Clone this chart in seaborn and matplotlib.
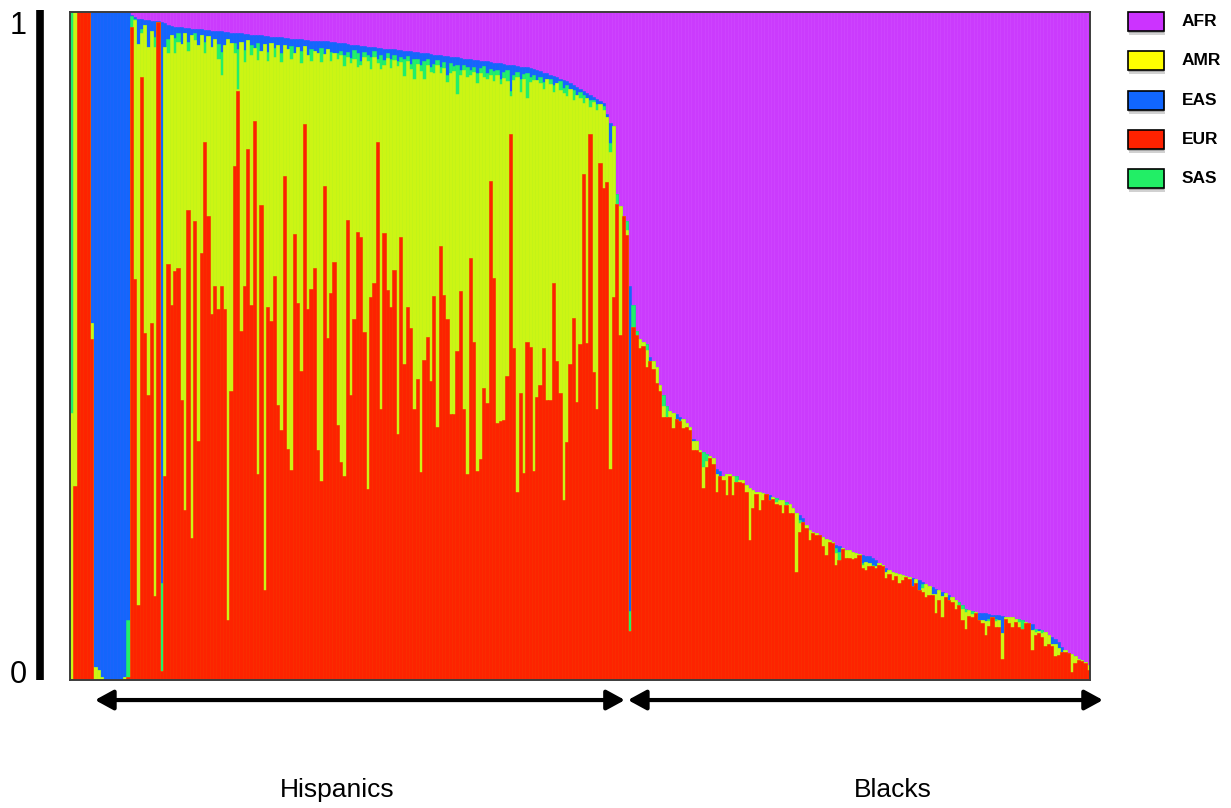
import numpy as np
import pandas as pd
import matplotlib
matplotlib.use('Agg')
import matplotlib.pyplot as plt
from matplotlib.patches import Rectangle
import seaborn as sns

# Admixture proportions per individual, stored as the cumulative top (in %)
# of each layer: EUR at the bottom, then AMR, SAS, EAS; AFR fills up to 100.

# Hispanics (168 individuals)
his_eur = [
    0, 29, 100, 100, 100, 100, 51, 0, 0, 0, 0, 0, 0, 0, 0, 0, 0, 0.5,
    97.7, 60.0, 11.3, 90.3, 51.9, 42.6, 53.4, 12.6, 98.5, 1.3,
    30.6, 62.3, 56.1, 61.3, 61.7, 41.9, 25.5, 70.3, 21.3, 68.7,
    35.8, 63.9, 80.5, 69.5, 54.8, 59.0, 55.5, 59.0, 55.5, 9.0,
    43.2, 77.0, 88.2, 52.3, 59.0, 79.5, 56.1, 83.7, 30.8, 71.1,
    13.5, 55.8, 53.7, 60.5, 41.1, 37.4, 75.4, 34.6, 31.4, 66.8,
    56.5, 46.3, 83.2, 55.5, 58.5, 61.7, 34.5, 29.8, 74.0, 51.2,
    57.9, 62.6,
    38.1, 32.6, 30.6, 68.9, 42.6, 54.0, 67.1, 66.3, 52.1, 28.6,
    57.4, 59.5, 80.6, 40.6, 66.9, 58.4, 55.8, 61.4, 36.9, 66.3,
    47.3, 55.8, 52.7, 40.5, 45.0, 31.2, 47.9, 51.4, 44.7, 57.5,
    37.9, 65.0, 57.6, 54.0, 39.8, 39.8, 49.2, 58.2, 40.5, 30.8,
    63.2, 50.6, 31.3, 33.1, 43.7, 41.5, 74.7, 60.2, 38.5, 38.7,
    38.9, 45.5, 81.7, 49.7, 28.2, 43.0, 31.0, 50.6, 49.9, 31.3,
    42.4, 44.2, 49.7, 41.9, 41.9, 59.5, 47.7, 43.0, 26.9, 35.6,
    47.3, 54.2, 41.6, 50.3, 75.8, 50.5, 81.7, 46.1, 40.5, 77.4,
    73.7, 74.6, 31.6, 57.4, 71.2, 51.6, 69.4, 66.6,
]
his_amr = [
    40, 100, 100, 100, 100, 100, 53.5, 2, 1.5, 0.5, 0, 0, 0, 0, 0, 0, 0.5, 0.5,
    97.7, 98.8, 95.2, 96.8, 98.0, 94.8, 97.1, 94.8, 98.5, 1.3,
    94.8, 93.9, 96.5, 93.9, 95.5, 95.2, 96.8, 94.2, 96.5, 95.8,
    95.0, 96.5, 93.9, 96.4, 94.8, 96.0, 92.9, 90.6, 95.0, 96.0,
    95.3, 93.9, 88.4, 95.5, 92.5, 95.8, 93.6, 94.6, 92.8, 94.2,
    95.2, 92.6, 95.3, 93.2, 95.0, 92.5, 95.1, 94.4, 93.0, 93.8,
    94.7, 92.4, 94.9, 93.6, 92.7, 94.1, 93.9, 92.5, 93.7, 94.4,
    92.6, 93.9,
    92.9, 93.5, 91.9, 93.3, 92.4, 93.0, 91.8, 92.1, 93.2, 92.6,
    91.4, 93.3, 92.3, 91.5, 92.0, 93.1, 91.6, 92.8, 91.9, 92.5,
    90.4, 92.7, 91.4, 89.9, 92.2, 91.2, 90.0, 92.1, 91.0, 90.8,
    92.0, 90.9, 91.6, 89.5, 90.8, 91.2, 87.7, 90.6, 91.3, 90.2,
    90.6, 91.0, 89.4, 90.8, 90.3, 89.9, 90.5, 89.7, 90.6, 89.2,
    90.1, 89.6, 87.5, 89.8, 90.2, 88.0, 89.9, 87.1, 89.5, 89.8,
    89.8, 89.4, 88.5, 89.9, 89.2, 88.0, 89.4, 88.3, 87.9, 87.4,
    88.4, 86.8, 87.6, 87.2, 86.4, 87.2, 85.8, 86.5, 85.3, 86.3,
    85.4, 84.3, 79.0, 83.0, 71.2, 71.0, 69.4, 67.4,
]
his_sas = [
    100, 100, 100, 100, 100, 100, 53.5, 2, 1.5, 0.5, 0, 0, 0, 0, 0, 0, 0.5, 9,
    99.4, 99.0, 95.2, 97.5, 98.0, 94.8, 97.1, 96.2, 98.5, 14.5,
    94.8, 96.0, 96.5, 96.1, 96.8, 95.2, 96.8, 95.5, 96.5, 96.8,
    95.0, 96.5, 95.5, 96.4, 94.8, 96.0, 95.2, 94.0, 95.0, 96.0,
    95.3, 95.3, 94.5, 95.5, 94.3, 95.8, 95.0, 94.6, 95.4, 94.2,
    95.2, 94.0, 95.3, 94.6, 95.0, 93.9, 95.1, 94.4, 94.9, 93.8,
    94.7, 94.2, 94.9, 93.6, 94.5, 94.1, 93.9, 94.6, 93.7, 94.4,
    94.0, 93.9,
    93.8, 94.2, 93.5, 94.0, 93.1, 94.3, 93.9, 92.7, 94.0, 93.5,
    93.2, 94.1, 93.0, 93.6, 92.8, 93.9, 92.9, 93.5, 92.6, 93.3,
    92.9, 93.4, 92.2, 92.9, 93.0, 92.1, 92.6, 92.9, 91.7, 92.2,
    92.8, 91.8, 92.5, 90.5, 92.4, 91.9, 92.0, 91.3, 92.1, 91.8,
    91.3, 91.8, 90.9, 91.6, 91.9, 90.8, 91.5, 91.2, 91.3, 89.9,
    91.0, 91.3, 88.1, 90.6, 91.0, 89.9, 90.7, 90.9, 90.2, 90.6,
    89.8, 90.2, 89.5, 89.9, 90.0, 89.1, 89.4, 89.6, 88.6, 89.0,
    88.4, 88.3, 87.6, 88.0, 87.6, 87.2, 86.9, 86.9, 86.2, 86.3,
    86.0, 84.3, 80.4, 83.0, 72.7, 71.0, 69.4, 68.7,
]
his_eas = [
    100, 100, 100, 100, 100, 100, 100, 100, 100, 100, 100, 100, 100, 100, 100, 100, 100, 100,
    99.6, 99.2, 98.9, 98.9, 98.8, 98.8, 98.7, 98.6, 98.6, 98.5,
    98.3, 98.0, 97.9, 97.8, 97.7, 97.7, 97.6, 97.6, 97.5, 97.5,
    97.4, 97.4, 97.3, 97.3, 97.2, 97.2, 97.1, 97.1, 97.0, 97.0,
    96.9, 96.9, 96.8, 96.8, 96.7, 96.7, 96.6, 96.6, 96.5, 96.5,
    96.4, 96.4, 96.3, 96.3, 96.2, 96.2, 96.1, 96.1, 96.0, 96.0,
    95.9, 95.9, 95.8, 95.8, 95.7, 95.7, 95.7, 95.6, 95.6, 95.6,
    95.5, 95.5,
    95.4, 95.3, 95.3, 95.2, 95.1, 95.1, 95.0, 94.9, 94.9, 94.8,
    94.7, 94.7, 94.6, 94.6, 94.5, 94.5, 94.4, 94.4, 94.3, 94.3,
    94.2, 94.2, 94.1, 94.0, 94.0, 93.9, 93.8, 93.8, 93.7, 93.6,
    93.6, 93.5, 93.4, 93.4, 93.3, 93.2, 93.2, 93.1, 93.0, 93.0,
    92.9, 92.8, 92.8, 92.7, 92.6, 92.6, 92.5, 92.4, 92.3, 92.3,
    92.2, 92.1, 92.0, 92.0, 91.9, 91.8, 91.8, 91.7, 91.6, 91.5,
    91.3, 91.1, 90.9, 90.8, 90.6, 90.4, 90.2, 90.0, 89.8, 89.6,
    89.3, 89.0, 88.8, 88.5, 88.2, 87.9, 87.6, 87.3, 87.0, 86.7,
    86.4, 84.8, 83.4, 83.0, 72.7, 71.0, 69.4, 68.7,
]

# Blacks (139 individuals)
blk_eur = [
    7.4, 52.9, 51.6, 49.7, 50.0, 46.8, 47.7, 46.5, 44.5, 43.2,
    39.4, 39.4, 39.4, 37.7, 39.0, 38.7, 37.7, 37.9, 37.4, 34.5,
    34.5, 34.2, 28.7, 31.9, 33.2, 32.3, 28.1, 30.6, 30.0, 27.7,
    30.5, 27.7, 29.7, 29.7, 29.5, 28.2, 21.0, 25.7, 27.9, 25.5,
    26.9, 27.8, 26.9, 27.1, 26.3, 26.2, 25.0, 26.2, 25.0, 25.0,
    16.1, 22.2, 23.6, 22.7, 20.9, 22.0, 21.7, 21.7, 20.0, 18.7,
    20.7, 20.5, 17.2, 18.0, 19.6, 18.2, 18.2, 18.1, 18.2, 18.7,
    16.7, 16.5, 17.0, 17.0, 16.7, 17.2, 17.0, 15.2, 15.9, 15.0,
    15.6, 14.5, 15.0, 15.4, 15.1, 14.0, 14.5, 13.5, 13.2, 12.5,
    12.7, 12.7, 10.0, 12.0, 9.5, 12.5, 12.0, 11.7, 10.7, 11.2,
    9.0, 7.6, 9.6, 9.5, 10.0, 9.0, 8.6, 6.7, 8.1, 9.5,
    7.9, 8.0, 3.1, 9.2, 8.5, 8.0, 8.7, 8.0, 7.7, 8.6,
    8.5, 4.5, 6.7, 7.1, 6.5, 5.1, 5.4, 5.1, 3.6, 3.7,
    4.2, 4.2, 4.0, 1.2, 2.5, 3.0, 2.9, 2.6, 1.5,
]
blk_amr = [
    7.4, 52.9, 51.6, 51.0, 50.6, 49.4, 47.7, 47.7, 46.8, 44.2,
    41.0, 39.4, 40.3, 40.0, 39.0, 38.7, 39.0, 38.4, 37.9, 35.8,
    35.8, 34.5, 31.9, 32.8, 33.5, 33.2, 30.9, 30.6, 30.6, 30.8,
    30.8, 30.6, 29.7, 30.0, 29.9, 29.2, 28.7, 28.5, 28.2, 28.2,
    28.0, 27.9, 26.9, 27.4, 26.6, 27.0, 26.9, 26.2, 26.3, 25.7,
    25.0, 23.5, 23.6, 23.2, 22.5, 22.1, 22.0, 21.7, 21.4, 21.1,
    20.9, 20.7, 19.0, 18.0, 19.7, 19.5, 19.4, 19.2, 19.0, 18.9,
    17.2, 17.7, 17.5, 17.0, 17.0, 17.5, 17.2, 16.2, 16.4, 16.2,
    16.0, 15.9, 15.7, 15.6, 15.4, 14.0, 15.1, 13.5, 13.8, 14.4,
    14.1, 12.9, 12.8, 13.5, 12.6, 13.0, 12.0, 12.4, 12.0, 11.3,
    10.7, 10.2, 10.5, 9.9, 10.2, 9.0, 9.0, 8.9, 8.8, 9.5,
    8.8, 9.0, 7.0, 9.5, 9.5, 9.4, 9.2, 8.7, 7.7, 8.7,
    8.6, 7.5, 7.2, 7.3, 7.0, 7.2, 6.7, 5.4, 5.4, 4.8,
    4.2, 4.5, 4.1, 3.9, 3.6, 3.2, 3.0, 2.7, 2.2,
]
blk_sas = [
    10.3, 56.1, 52.3, 51.0, 50.6, 50.3, 47.7, 47.7, 46.8, 44.2,
    42.6, 41.0, 40.3, 40.0, 39.0, 38.7, 39.0, 38.4, 37.9, 35.8,
    35.8, 34.5, 34.2, 33.9, 33.5, 33.2, 30.9, 30.6, 30.6, 30.8,
    30.8, 30.6, 30.6, 30.0, 29.9, 29.2, 28.7, 28.5, 28.2, 28.2,
    28.0, 27.9, 26.9, 27.4, 27.2, 27.0, 26.9, 26.7, 26.3, 25.7,
    25.0, 24.0, 23.7, 23.2, 22.5, 22.1, 22.0, 21.7, 21.4, 21.1,
    20.9, 20.7, 19.7, 19.2, 19.7, 19.5, 19.4, 19.2, 19.0, 18.9,
    17.5, 17.7, 17.5, 17.2, 17.0, 17.5, 17.2, 16.2, 16.4, 16.2,
    16.0, 15.9, 15.7, 15.6, 15.4, 14.0, 15.1, 13.5, 14.3, 14.4,
    14.1, 12.9, 12.8, 13.5, 12.6, 13.0, 12.0, 12.4, 12.0, 11.7,
    11.2, 10.7, 10.5, 10.4, 10.2, 9.0, 9.0, 8.9, 9.1, 9.5,
    9.1, 9.0, 7.0, 9.5, 9.5, 9.4, 9.2, 9.2, 9.0, 8.7,
    8.6, 7.5, 7.7, 7.3, 7.5, 7.2, 6.7, 5.4, 5.4, 4.8,
    4.2, 4.5, 4.1, 3.9, 3.6, 3.2, 3.0, 2.7, 2.2,
]
blk_eas = [
    59.0, 56.1, 52.3, 51.0, 50.6, 50.3, 48.4, 47.7, 46.8, 44.2,
    42.6, 41.0, 40.3, 40.0, 39.8, 39.4, 39.0, 38.4, 37.9, 36.1,
    35.8, 34.5, 34.2, 33.9, 33.5, 33.2, 31.6, 31.3, 30.6, 30.8,
    30.8, 30.6, 30.6, 30.0, 29.9, 29.2, 28.7, 28.5, 28.2, 28.2,
    28.0, 27.9, 27.7, 27.4, 27.2, 27.0, 26.9, 26.7, 26.3, 25.7,
    25.0, 24.7, 24.2, 23.2, 22.5, 22.1, 22.0, 21.7, 21.4, 21.1,
    20.9, 20.7, 20.2, 20.0, 19.7, 19.5, 19.4, 19.2, 19.0, 18.9,
    18.7, 18.5, 18.5, 18.2, 18.0, 17.5, 17.2, 16.7, 16.4, 16.2,
    16.0, 15.9, 15.7, 15.6, 15.4, 15.2, 15.1, 15.0, 14.6, 14.4,
    14.1, 13.9, 13.6, 13.5, 13.2, 13.0, 12.7, 12.4, 12.0, 11.7,
    11.2, 10.7, 10.5, 10.4, 10.2, 10.1, 10.0, 10.0, 9.9, 9.8,
    9.7, 9.7, 9.6, 9.5, 9.5, 9.4, 9.2, 9.2, 9.0, 8.7,
    8.6, 8.4, 7.7, 7.6, 7.5, 7.2, 6.7, 6.5, 6.2, 5.7,
    5.0, 4.5, 4.1, 3.9, 3.6, 3.2, 3.0, 2.7, 2.2,
]

groups = ['Hispanics', 'Blacks']
components = ['AFR', 'AMR', 'EAS', 'EUR', 'SAS']

bar_colors = {'AFR': '#cb3bfd', 'AMR': '#ccf514', 'EAS': '#1466fb',
              'EUR': '#fd2300', 'SAS': '#22ef6a'}
legend_colors = {'AFR': '#cc33ff', 'AMR': '#ffff00', 'EAS': '#1166ff',
                 'EUR': '#ff2200', 'SAS': '#22ee66'}

n_his = len(his_eur)
df = pd.DataFrame({
    'sample': np.arange(n_his + len(blk_eur)),
    'EUR': his_eur + blk_eur,
    'AMR': his_amr + blk_amr,
    'SAS': his_sas + blk_sas,
    'EAS': his_eas + blk_eas,
})
df['AFR'] = 100.0
n = len(df)

sns.set_style('white')
plt.rcParams['font.family'] = ['Liberation Sans', 'DejaVu Sans']
plt.rcParams['text.color'] = 'black'

W, H = 1231, 808
fig = plt.figure(figsize=(W / 100, H / 100), dpi=100)
ax = fig.add_axes([70 / W, 128 / H, 1020 / W, 668 / H])

# draw back to front: each layer covers the one below with its cumulative top
for comp in ['AFR', 'EAS', 'SAS', 'AMR', 'EUR']:
    sns.barplot(data=df, x='sample', y=comp, color=bar_colors[comp],
                width=1.0, native_scale=True, saturation=1, errorbar=None,
                linewidth=0.4, edgecolor=bar_colors[comp], ax=ax)

ax.set_xlim(-0.5, n - 0.5)
ax.set_ylim(0, 100)
ax.set_xticks([])
ax.set_yticks([])
ax.set_xlabel('')
ax.set_ylabel('')
for sp in ax.spines.values():
    sp.set_color('#3c3c3c')
    sp.set_linewidth(1.4)

# thick left scale bar with 0 / 1 labels
ax.plot([-0.0294, -0.0294], [0, 1.003], transform=ax.transAxes, color='black',
        lw=5.5, clip_on=False, solid_capstyle='butt')
ax.text(-0.051, 0.979, '1', transform=ax.transAxes, ha='center', va='center',
        fontsize=22, color='black')
ax.text(-0.051, 0.0075, '0', transform=ax.transAxes, ha='center', va='center',
        fontsize=22, color='black')

# group arrows and labels
arrow_style = dict(arrowstyle='<|-|>,head_length=0.55,head_width=0.3',
                   color='black', lw=3, mutation_scale=20, shrinkA=0, shrinkB=0)
spans = {'Hispanics': (0.0245, 0.544), 'Blacks': (0.547, 1.0127)}
label_x = {'Hispanics': 0.262, 'Blacks': 0.807}
for g in groups:
    x0, x1 = spans[g]
    ax.annotate('', xy=(x0, -0.03), xytext=(x1, -0.03), xycoords='axes fraction',
                textcoords='axes fraction', arrowprops=arrow_style,
                annotation_clip=False)
    ax.text(label_x[g], -0.165, g, transform=ax.transAxes, ha='center',
            va='center', fontsize=19, color='black')

# legend with drop-shadowed swatches
for i, comp in enumerate(components):
    top = 12 + i * 39.3
    bx, bw, bh = 1128 / W, 36 / W, 19 / H
    by = 1 - (top + 19) / H
    fig.patches.append(Rectangle((bx + 1 / W, by - 4 / H), bw, bh,
                                 transform=fig.transFigure, facecolor='black',
                                 alpha=0.18, edgecolor='none'))
    fig.patches.append(Rectangle((bx, by - 2 / H), bw, bh,
                                 transform=fig.transFigure, facecolor='black',
                                 alpha=0.2, edgecolor='none'))
    fig.patches.append(Rectangle((bx, by), bw, bh, transform=fig.transFigure,
                                 facecolor=legend_colors[comp], edgecolor='black',
                                 linewidth=1.2))
    fig.text(1182 / W, 1 - (top + 9.5) / H, comp, ha='left', va='center',
             fontsize=12.5, fontweight='bold', color='black')

fig.savefig('out.png', dpi=100)
